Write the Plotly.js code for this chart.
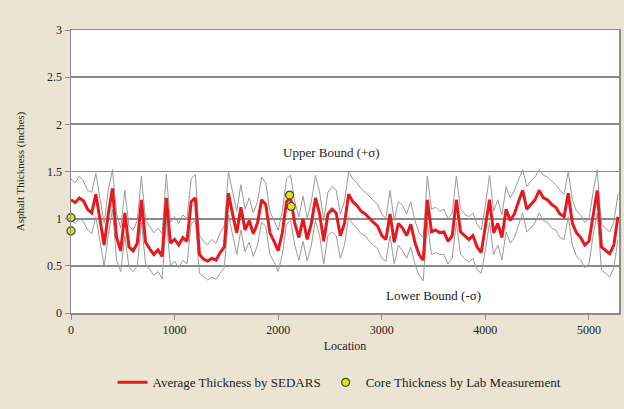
<!DOCTYPE html>
<html>
<head>
<meta charset="utf-8">
<script src="https://cdn.plot.ly/plotly-3.0.1.min.js"></script>
<style>html,body{margin:0;padding:0;background:#ECE4D3;}#chart{width:624px;height:409px;}</style>
</head>
<body>
<div id="chart"></div>
<script>
// Location step of 40 (0 .. 5280)
const locations = [0,40,80,120,160,200,240,280,320,360,400,440,480,520,560,600,640,680,720,760,800,840,880,920,960,1000,1040,1080,1120,1160,1200,1240,1280,1320,1360,1400,1440,1480,1520,1560,1600,1640,1680,1720,1760,1800,1840,1880,1920,1960,2000,2040,2080,2120,2160,2200,2240,2280,2320,2360,2400,2440,2480,2520,2560,2600,2640,2680,2720,2760,2800,2840,2880,2920,2960,3000,3040,3080,3120,3160,3200,3240,3280,3320,3360,3400,3440,3480,3520,3560,3600,3640,3680,3720,3760,3800,3840,3880,3920,3960,4000,4040,4080,4120,4160,4200,4240,4280,4320,4360,4400,4440,4480,4520,4560,4600,4640,4680,4720,4760,4800,4840,4880,4920,4960,5000,5040,5080,5120,5160,5200,5240,5280];

const avgThickness = [1.20,1.17,1.22,1.19,1.10,1.06,1.26,1.00,0.72,1.05,1.32,0.80,0.66,1.06,0.70,0.66,0.74,1.20,0.75,0.68,0.62,0.67,0.60,1.22,0.74,0.78,0.72,0.80,0.76,1.18,1.22,0.62,0.57,0.55,0.58,0.56,0.64,0.70,1.27,1.05,0.85,1.12,0.88,0.98,0.84,0.95,1.20,1.15,0.85,0.76,0.66,0.85,1.18,1.22,0.95,0.80,1.00,0.78,0.95,1.22,1.05,0.76,1.05,1.10,1.06,0.82,0.95,1.26,1.18,1.14,1.08,1.05,1.00,0.96,0.92,0.82,0.78,1.05,0.75,0.95,0.90,0.82,0.94,0.75,0.62,0.56,1.20,0.86,0.88,0.85,0.86,0.76,0.82,1.20,0.86,0.82,0.78,0.82,0.70,0.64,0.90,1.20,0.85,0.95,0.80,1.10,0.98,1.05,1.18,1.30,1.10,1.15,1.20,1.30,1.22,1.20,1.15,1.12,1.05,1.02,1.27,0.95,0.85,0.80,0.72,0.76,1.05,1.30,0.70,0.66,0.63,0.72,1.02];

const upperBound = [1.42,1.38,1.45,1.40,1.30,1.28,1.48,1.20,0.95,1.30,1.52,1.05,0.90,1.30,0.92,0.88,0.98,1.45,0.98,0.92,0.85,0.90,0.84,1.47,0.96,1.02,0.95,1.04,1.00,1.42,1.47,0.82,0.76,0.72,0.78,0.74,0.85,0.92,1.50,1.28,1.08,1.36,1.10,1.22,1.06,1.18,1.44,1.38,1.08,0.98,0.88,1.08,1.42,1.46,1.18,1.02,1.24,1.00,1.18,1.46,1.28,0.98,1.28,1.34,1.30,1.05,1.18,1.50,1.42,1.38,1.32,1.28,1.24,1.20,1.15,1.05,1.00,1.30,0.98,1.18,1.14,1.05,1.18,0.98,0.85,0.80,1.45,1.10,1.12,1.08,1.10,1.00,1.06,1.45,1.10,1.05,1.02,1.06,0.94,0.88,1.14,1.46,1.08,1.20,1.04,1.34,1.22,1.30,1.42,1.52,1.34,1.40,1.44,1.52,1.46,1.44,1.40,1.36,1.30,1.26,1.50,1.20,1.08,1.04,0.96,1.00,1.28,1.52,0.94,0.90,0.86,0.96,1.26];

const lowerBound = [0.98,0.95,1.00,0.97,0.88,0.84,1.02,0.78,0.50,0.82,1.10,0.56,0.44,0.82,0.48,0.44,0.50,0.96,0.52,0.46,0.40,0.44,0.36,0.98,0.50,0.55,0.48,0.56,0.52,0.95,0.98,0.42,0.38,0.35,0.38,0.36,0.42,0.48,1.04,0.82,0.62,0.88,0.65,0.75,0.60,0.72,0.96,0.92,0.62,0.54,0.44,0.62,0.94,0.98,0.72,0.56,0.76,0.55,0.72,0.98,0.82,0.52,0.82,0.86,0.82,0.58,0.72,1.02,0.94,0.90,0.84,0.82,0.76,0.72,0.68,0.58,0.55,0.82,0.52,0.72,0.66,0.58,0.70,0.52,0.40,0.34,0.96,0.62,0.64,0.62,0.62,0.52,0.58,0.96,0.62,0.58,0.54,0.58,0.46,0.42,0.66,0.96,0.62,0.72,0.56,0.86,0.74,0.80,0.94,1.06,0.86,0.90,0.96,1.06,0.98,0.96,0.90,0.88,0.80,0.78,1.02,0.72,0.60,0.56,0.48,0.52,0.82,1.06,0.46,0.42,0.38,0.48,0.78];

const coreLocations = [0,0,2110,2125];
const coreThickness = [1.01,0.87,1.25,1.13];

const xTicks = [0,1000,2000,3000,4000,5000];
const yTicks = [0,0.5,1,1.5,2,2.5,3];

const font = "Liberation Serif, Times New Roman, serif";

const traces = [
  {x: locations, y: upperBound, type: 'scatter', mode: 'lines', line: {color: '#9a9a9a', width: 1}, showlegend: false, hoverinfo: 'skip'},
  {x: locations, y: lowerBound, type: 'scatter', mode: 'lines', line: {color: '#9a9a9a', width: 1}, showlegend: false, hoverinfo: 'skip'},
  {x: locations, y: avgThickness, type: 'scatter', mode: 'lines', name: 'Average Thickness by SEDARS', line: {color: '#e61a1e', width: 3}},
  {x: coreLocations, y: coreThickness, type: 'scatter', mode: 'markers', name: 'Core Thickness by Lab Measurement', marker: {color: '#e6e01e', size: 8, line: {color: '#4a4a20', width: 1.2}}, cliponaxis: false}
];

const layout = {
  width: 624, height: 409,
  paper_bgcolor: '#ECE4D3',
  plot_bgcolor: '#ffffff',
  margin: {l: 71, r: 5, t: 30, b: 96},
  font: {family: font, color: '#222', size: 12},
  showlegend: true,
  legend: {orientation: 'h', x: 0.49, xanchor: 'center', y: -0.245, yanchor: 'middle', font: {size: 13, family: font, color: '#222'}, bgcolor: 'rgba(0,0,0,0)', itemwidth: 30},
  xaxis: {
    range: [0, 5290], tickvals: xTicks, ticktext: xTicks.map(String),
    showgrid: false, zeroline: false, showline: true, linecolor: '#8c8c8c', linewidth: 1.5, mirror: true,
    ticks: 'outside', ticklen: 5, tickcolor: '#8c8c8c', tickfont: {size: 12, family: font},
    title: {text: 'Location', font: {size: 12, family: font}, standoff: 5}
  },
  yaxis: {
    range: [0, 3], tickvals: yTicks, ticktext: ['0','0.5','1','1.5','2','2.5','3'],
    showgrid: true, gridcolor: '#8a8a8a', gridwidth: 1.8, zeroline: false,
    showline: true, linecolor: '#8c8c8c', linewidth: 1.5, mirror: true,
    ticks: 'outside', ticklen: 5, tickcolor: '#8c8c8c', tickfont: {size: 12, family: font},
    title: {text: 'Asphalt Thickness (inches)', font: {size: 11, family: font}, standoff: 20}
  },
  annotations: [
    {x: 2510, y: 1.70, xref: 'x', yref: 'y', text: 'Upper Bound (+σ)', showarrow: false, font: {size: 13, family: font, color: '#222'}},
    {x: 3504, y: 0.19, xref: 'x', yref: 'y', text: 'Lower Bound (-σ)', showarrow: false, font: {size: 13, family: font, color: '#222'}}
  ]
};

Plotly.newPlot('chart', traces, layout, {displayModeBar: false, staticPlot: true});
</script>
</body>
</html>
